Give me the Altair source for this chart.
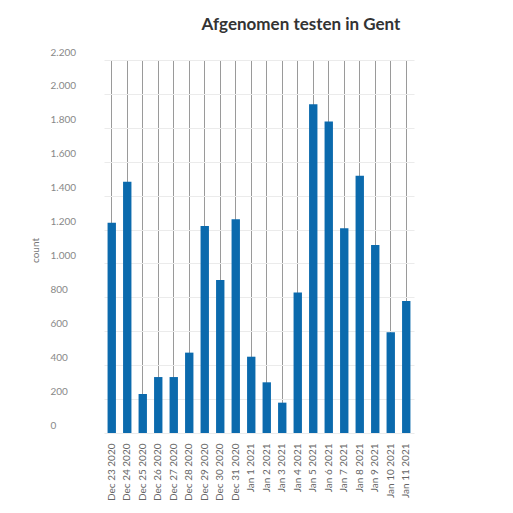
import altair as alt
import pandas as pd

dates = ["Dec 23 2020", "Dec 24 2020", "Dec 25 2020", "Dec 26 2020", "Dec 27 2020",
         "Dec 28 2020", "Dec 29 2020", "Dec 30 2020", "Dec 31 2020", "Jan 1 2021",
         "Jan 2 2021", "Jan 3 2021", "Jan 4 2021", "Jan 5 2021", "Jan 6 2021",
         "Jan 7 2021", "Jan 8 2021", "Jan 9 2021", "Jan 10 2021", "Jan 11 2021"]
counts = [1240, 1482, 230, 330, 330,
          474, 1221, 902, 1260, 450,
          299, 179, 828, 1939, 1838,
          1207, 1518, 1109, 594, 779]
y_ticks = [0, 200, 400, 600, 800, 1000, 1200, 1400, 1600, 1800, 2000, 2200]

df = pd.DataFrame({"date": dates, "count": counts})

chart = alt.Chart(df).mark_bar(color="#0b6aad").encode(
    x=alt.X("date:N", sort=None, title=None,
            scale=alt.Scale(paddingInner=0.46, paddingOuter=0.23, range=[56, 366]),
            axis=alt.Axis(labelAngle=270, grid=True, bandPosition=0.5,
                          gridColor="#9a9a9a", gridWidth=1, domain=False, ticks=False,
                          labelPadding=10, labelFont="Lato", labelFontSize=10,
                          labelColor="#666666")),
    y=alt.Y("count:Q", title="count",
            scale=alt.Scale(domain=[0, 2200], nice=False),
            axis=alt.Axis(values=y_ticks, grid=True, gridColor="#ebebeb", gridWidth=1,
                          domain=False, ticks=False, tickSize=0,
                          labelAlign="left", labelBaseline="bottom", labelPadding=-2,
                          labelOffset=-3, labelFont="Lato", labelFontSize=10,
                          labelColor="#888888", labelOverlap=False,
                          labelExpr="replace(format(datum.value, ','), ',', '.')",
                          titleFont="Lato", titleFontSize=10, titleColor="#777777",
                          titleFontWeight="normal", titleAngle=270, titleX=-13, titleY=190,
                          titleAlign="center", titleBaseline="middle")),
).properties(
    width=402, height=373,
    title=alt.TitleParams("Afgenomen testen in Gent", font="Lato", fontSize=17,
                          fontWeight="bold", color="#333333", anchor="middle",
                          dx=52, offset=13),
    autosize=alt.AutoSizeParams(type="none"),
    padding={"left": 40, "top": 52, "right": 50, "bottom": 70},
).configure_view(stroke=None)

chart.save("out.html", embed_options={"renderer": "svg", "actions": False})
